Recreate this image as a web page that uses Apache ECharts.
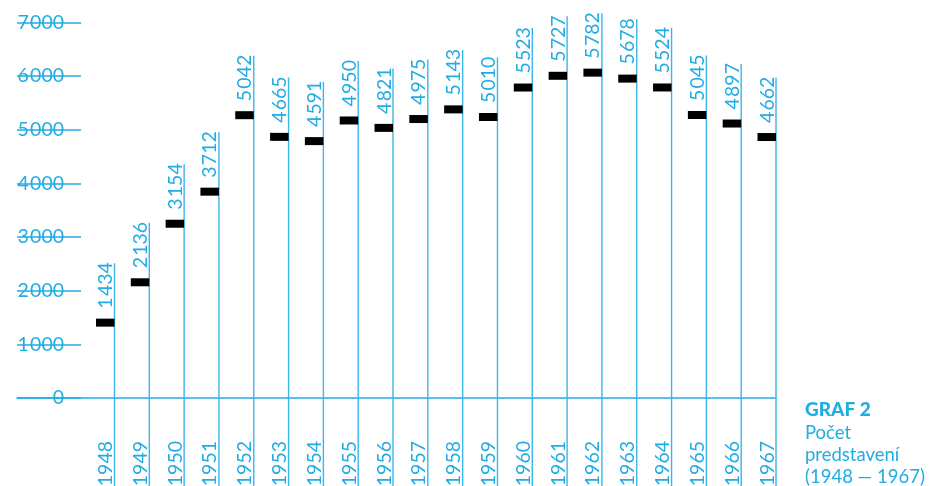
<!DOCTYPE html>
<html><head><meta charset="utf-8">
<style>html,body{margin:0;padding:0;background:#fff}#c{width:930px;height:486px}</style>
<script src="https://cdn.jsdelivr.net/npm/echarts@6/dist/echarts.min.js"></script>
</head><body><div id="c"></div>
<script>
const years = [1948,1949,1950,1951,1952,1953,1954,1955,1956,1957,1958,1959,1960,1961,1962,1963,1964,1965,1966,1967];
const performances = [1434,2136,3154,3712,5042,4665,4591,4950,4821,4975,5143,5010,5523,5727,5782,5678,5524,5045,4897,4662];
const titleText = 'GRAF 2';
const subtitleLines = ['Počet', 'predstavení', '(1948 — 1967)'];

const BLUE = '#22ace4';
const LINE_BLUE = '#3db5e8';
const FONT = 'Lato';
const FS = 19.5;
const LH = 17.5;
function fmt(v){ const s = String(Math.round(v)); return s.length > 3 ? s.slice(0, -3) + '\u200A' + s.slice(-3) : s; }
const measureCtx = document.createElement('canvas').getContext('2d');
function textWidth(str){ measureCtx.font = FS + 'px ' + FONT; return measureCtx.measureText(str).width; }

const chart = echarts.init(document.getElementById('c'), null, {renderer: 'canvas'});
chart.setOption({
  animation: false,
  title: {
    text: titleText,
    subtext: subtitleLines.join('\n'),
    left: 805, top: 400, padding: 0,
    itemGap: 3,
    textStyle: {color: BLUE, fontFamily: FONT, fontWeight: 900, fontSize: 19},
    subtextStyle: {color: BLUE, fontFamily: FONT, fontWeight: 'normal', fontSize: 18.5, lineHeight: 22}
  },
  grid: [
    {left: 17, right: 154, top: 22.5, bottom: 88, outerBoundsMode: 'none', containLabel: false},
    {left: 17, right: 154, top: 2.6, bottom: 80.9, outerBoundsMode: 'none', containLabel: false}
  ],
  xAxis: [
    {gridIndex: 0, type: 'value', min: 1945.2, max: 1967,
     splitLine: {show: false}, axisTick: {show: false},
     axisLine: {show: true, onZero: false, lineStyle: {color: BLUE, width: 1.5}},
     axisLabel: {customValues: years, formatter: v => String(v), rotate: 90, margin: 43,
                 color: BLUE, fontFamily: FONT, fontSize: FS, lineHeight: LH, verticalAlign: 'bottom'}},
    {gridIndex: 1, type: 'value', min: 1945.2, max: 1967, show: false}
  ],
  yAxis: [
    {gridIndex: 0, type: 'value', min: 0, max: 7000, interval: 1000,
     axisLine: {show: false}, splitLine: {show: false},
     axisTick: {show: true, inside: true, length: 64, lineStyle: {color: BLUE, width: 1.5}},
     axisLabel: {inside: true, margin: 47, align: 'right', color: BLUE, fontFamily: FONT, fontSize: FS, formatter: fmt}},
    {gridIndex: 1, type: 'value', min: 0, max: 7000, show: false}
  ],
  series: [{
    type: 'custom', xAxisIndex: 1, yAxisIndex: 1,
    data: years.map((y, i) => [y, performances[i]]),
    renderItem(params, api) {
      const p = api.coord([api.value(0), api.value(1)]);
      const x = p[0], y = p[1];
      const label = fmt(api.value(1));
      const textStart = y - 14;
      const lineTop = textStart - textWidth(label) + 1;
      return {type: 'group', children: [
        {type: 'line', shape: {x1: x, y1: lineTop, x2: x, y2: api.getHeight()},
         style: {stroke: LINE_BLUE, lineWidth: 1.4}},
        {type: 'rect', shape: {x: x - 18.5, y: y - 4, width: 18.5, height: 8}, style: {fill: '#000'}},
        {type: 'text', x: x, y: textStart, rotation: Math.PI / 2,
         style: {text: label, fill: BLUE, fontFamily: FONT, fontSize: FS, lineHeight: LH,
                 align: 'left', verticalAlign: 'bottom'}}
      ]};
    }
  }]
});
</script></body></html>
